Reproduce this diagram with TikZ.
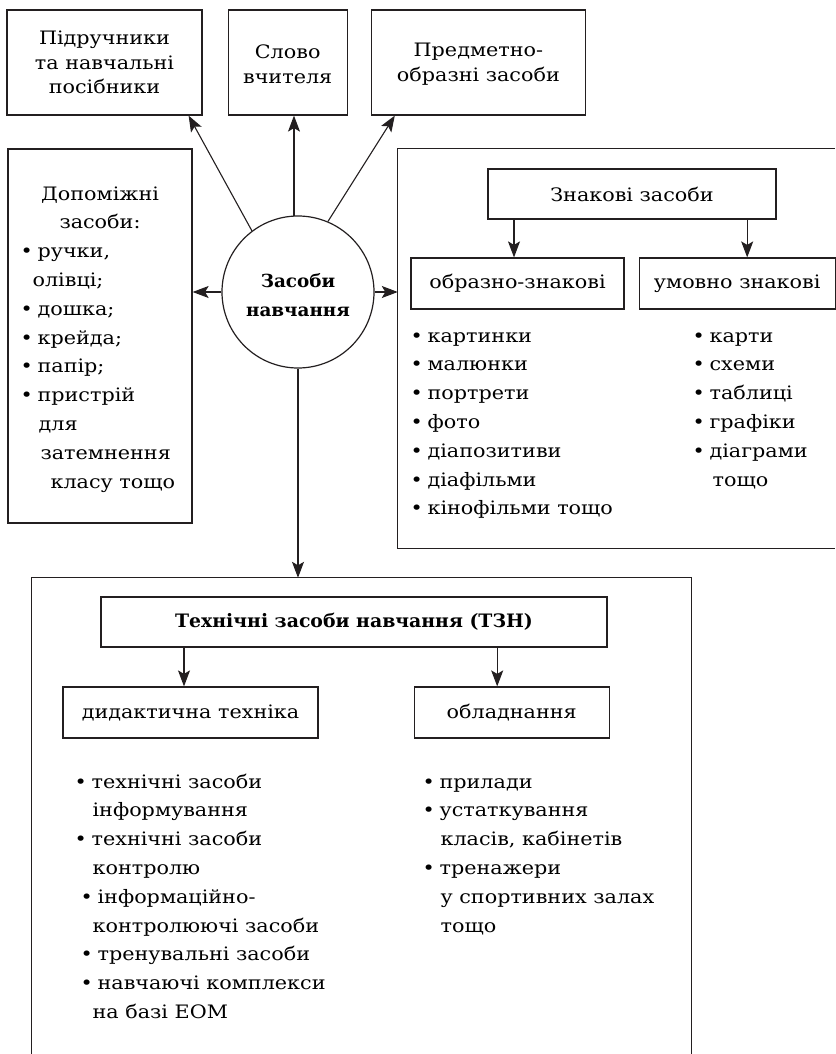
\documentclass[tikz,border=0pt]{standalone}
\usepackage{fontspec}
\setmainfont{DejaVu Serif}[FakeStretch=1.12, BoldFeatures={FakeStretch=1.02}]
\usetikzlibrary{arrows.meta, positioning, calc}
\definecolor{inkgray}{RGB}{35, 31, 32}

\newcommand{\bul}{\makebox[17pt][l]{\textbullet}}

\begin{document}
\begin{tikzpicture}[
        x=1pt, y=-1pt,
        box/.style={draw=inkgray, line width=1.2pt, inner sep=2pt, align=center,
                    font=\fontsize{18.5}{24.5}\selectfont},
        frame/.style={inner sep=0pt},
        circ/.style={draw=inkgray, line width=1.2pt, circle, minimum size=152pt, align=center,
                    font=\bfseries\fontsize{18}{29}\selectfont},
        list/.style={anchor=north west, inner sep=0pt, align=left,
                    font=\fontsize{18.5}{28.8}\selectfont},
        arrow/.style={-{Stealth[length=16pt, width=12pt, inset=3.5pt]}, line width=1.1pt, draw=inkgray},
    ]
    \useasboundingbox (0,0) rectangle (835,1054);

    % top row
    \node[box, minimum width=195pt, minimum height=105pt] (podr) at (104.5,62.5) {Підручники\\та навчальні\\посібники};
    \node[box, minimum width=119pt, minimum height=105pt] (slovo) [right=25pt of podr] {\strut Слово\\вчителя};
    \node[box, minimum width=214pt, minimum height=105pt] (predm) [right=23pt of slovo] {\strut Предметно-\\образні засоби};

    % centre
    \node[circ] (zasoby) at (298,292) {\strut Засоби\\навчання};

    % left box
    \node[box, minimum width=184pt, minimum height=374pt] (dopom) at (100,336) {};
    \node[list, anchor=north, align=center] (dophead) at (100,179.8) {\strut Допоміжні\\засоби:};
    \node[list] (doplist) at (20.4,237.4) {\strut\bul ручки,\\\hspace*{12pt}олівці;\\\bul дошка;\\\bul крейда;\\\bul папір;\\\bul пристрій\\\hspace*{18pt}для\\\hspace*{20pt}затемнення\\\hspace*{30pt}класу тощо};

    % right box, open on the right
    \node[frame, minimum width=437pt, minimum height=399pt] (znak) at (616.5,348.5) {};
    \draw[draw=inkgray, line width=1.2pt] (znak.north east) -- (znak.north west) -- (znak.south west) -- (znak.south east);
    \node[box, minimum width=288pt, minimum height=50pt] (znakhead) at (632,194) {Знакові засоби};
    \node[box, minimum width=213pt, minimum height=51pt] (obrazno) at (517.5,283.5) {образно-знакові};
    \node[box, minimum width=196pt, minimum height=51pt] (umovno) [right=14pt of obrazno] {умовно знакові};
    \node[list] (obrlist) at (410.4,321.8) {\strut\bul картинки\\\bul малюнки\\\bul портрети\\\bul фото\\\bul діапозитиви\\\bul діафільми\\\bul кінофільми тощо};
    \node[list] (umolist) at (692.4,321.8) {\strut\bul карти\\\bul схеми\\\bul таблиці\\\bul графіки\\\bul діаграми\\\hspace*{20pt}тощо};

    % bottom box, open at the bottom
    \node[frame, minimum width=659pt, minimum height=476pt] (tzn) at (361.5,816) {};
    \draw[draw=inkgray, line width=1.2pt] (tzn.south west) -- (tzn.north west) -- (tzn.north east) -- (tzn.south east);
    \node[box, minimum width=506pt, minimum height=50pt, font=\bfseries\fontsize{18.5}{24.5}\selectfont] (tznhead) at (354,622) {Технічні засоби навчання (ТЗН)};
    \node[box, minimum width=255pt, minimum height=51pt] (didakt) at (190.5,712.5) {дидактична техніка};
    \node[box, minimum width=195pt, minimum height=51pt] (obl) [right=95pt of didakt] {обладнання};
    \node[list] (didlist) at (74.4,767.8) {\strut\bul технічні засоби\\\hspace*{18pt}інформування\\\bul технічні засоби\\\hspace*{18pt}контролю\\\hspace*{6pt}\bul інформаційно-\\\hspace*{18pt}контролюючі засоби\\\hspace*{6pt}\bul тренувальні засоби\\\hspace*{6pt}\bul навчаючі комплекси\\\hspace*{18pt}на базі ЕОМ};
    \node[list] (obllist) at (422.4,767.8) {\strut\bul прилади\\\bul устаткування\\\hspace*{18pt}класів, кабінетів\\\bul тренажери\\\hspace*{18pt}у спортивних залах\\\hspace*{18pt}тощо};

    % connectors
    \draw[arrow] (zasoby.127) -- ($(podr.south east)+(-14,0)$);
    \draw[arrow] (zasoby.93) -- (zasoby.93 |- slovo.south);
    \draw[arrow] (zasoby.67) -- ($(predm.south west)+(24,0)$);
    \draw[arrow] (zasoby.west) -- (zasoby.west -| dopom.east);
    \draw[arrow] (zasoby.east) -- (zasoby.east -| znak.west);
    \draw[arrow] (zasoby.south) -- (zasoby.south |- tzn.north);
    \draw[arrow] ($(obrazno.north |- znakhead.south)+(-3.5,0)$) -- ($(obrazno.north)+(-3.5,0)$);
    \draw[arrow] ($(umovno.north |- znakhead.south)+(10,0)$) -- ($(umovno.north)+(10,0)$);
    \draw[arrow] ($(didakt.north |- tznhead.south)+(-6.5,0)$) -- ($(didakt.north)+(-6.5,0)$);
    \draw[arrow] ($(obl.north |- tznhead.south)+(-14.5,0)$) -- ($(obl.north)+(-14.5,0)$);
\end{tikzpicture}
\end{document}
